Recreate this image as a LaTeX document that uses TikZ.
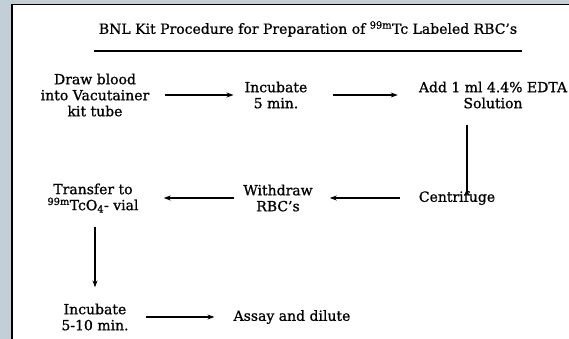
\documentclass[tikz,border=0pt]{standalone}
\usepackage{fontspec}
\setmainfont{DejaVu Serif}[BoldFont=DejaVu Serif, BoldFeatures={FakeBold=0.9}]
\usetikzlibrary{arrows.meta}

\definecolor{frameblue}{RGB}{195,207,215}

\begin{document}
\begin{tikzpicture}[x=1pt, y=-1pt,
  every node/.style={font=\fontsize{14}{16}\selectfont\bfseries, align=center, inner sep=0pt},
  flow/.style={->, line width=1.1pt},
  >={Stealth[length=7pt, width=5pt]}]

  %%%%%%%%%%%%%%%%%%%%%%%%%%%%%%
  % Page frame                 %
  %%%%%%%%%%%%%%%%%%%%%%%%%%%%%%
  \useasboundingbox (0,0) rectangle (569,339);
  \fill[frameblue] (0,0) rectangle (569,339);
  \fill[white] (12,4.5) rectangle (569,339);
  \draw[line width=1.3pt] (12,339) -- (12,4.5) -- (569,4.5);

  %%%%%%%%%%%%%%%%%%%%%%%%%%%%%%
  % Title and rule             %
  %%%%%%%%%%%%%%%%%%%%%%%%%%%%%%
  \node (title) at (308,29) {BNL Kit Procedure for Preparation of \textsuperscript{99m}Tc Labeled RBC's};
  \draw[line width=1.3pt] (94,51) -- (522,51);

  %%%%%%%%%%%%%%%%%%%%%%%%%%%%%%
  % Procedure steps            %
  %%%%%%%%%%%%%%%%%%%%%%%%%%%%%%
  % First row
  \node (drawblood) at (95,95) {Draw blood\\into Vacutainer\\kit tube};
  \node (incfive) at (276,95) {Incubate\\5 min.};
  \node (edta) at (493,95) {Add 1 ml 4.4\% EDTA\\Solution};
  % Second row
  \node (centrifuge) at (457,198) {Centrifuge};
  \node (withdraw) at (278,198) {Withdraw\\RBC's};
  \node (transfer) at (93,198) {Transfer to\\\textsuperscript{99m}TcO\textsubscript{4}- vial};
  % Third row
  \node (incten) at (95,317) {Incubate\\5-10 min.};
  \node (assay) at (292,317) {Assay and dilute};

  %%%%%%%%%%%%%%%%%%%%%%%%%%%%%%
  % Arrows between the steps   %
  %%%%%%%%%%%%%%%%%%%%%%%%%%%%%%
  \draw[flow, shorten <=16pt, shorten >=11pt] (drawblood) -- (incfive);
  \draw[flow, shorten <=25pt, shorten >=21pt] (incfive) -- (edta);
  \draw[flow] ([xshift=-26pt, yshift=-16pt]edta.south) -- ([xshift=-26pt]edta.south |- centrifuge.north) ++(0,-2);
  \draw[flow, shorten <=19pt, shorten >=17pt] (centrifuge) -- (withdraw);
  \draw[flow, shorten <=9pt, shorten >=25pt] (withdraw) -- (transfer);
  \draw[flow, shorten <=14pt, shorten >=16pt] (transfer.south -| incten.north) -- (incten.north);
  \draw[flow, shorten <=17pt, shorten >=19pt] (incten) -- (assay);

\end{tikzpicture}
\end{document}
